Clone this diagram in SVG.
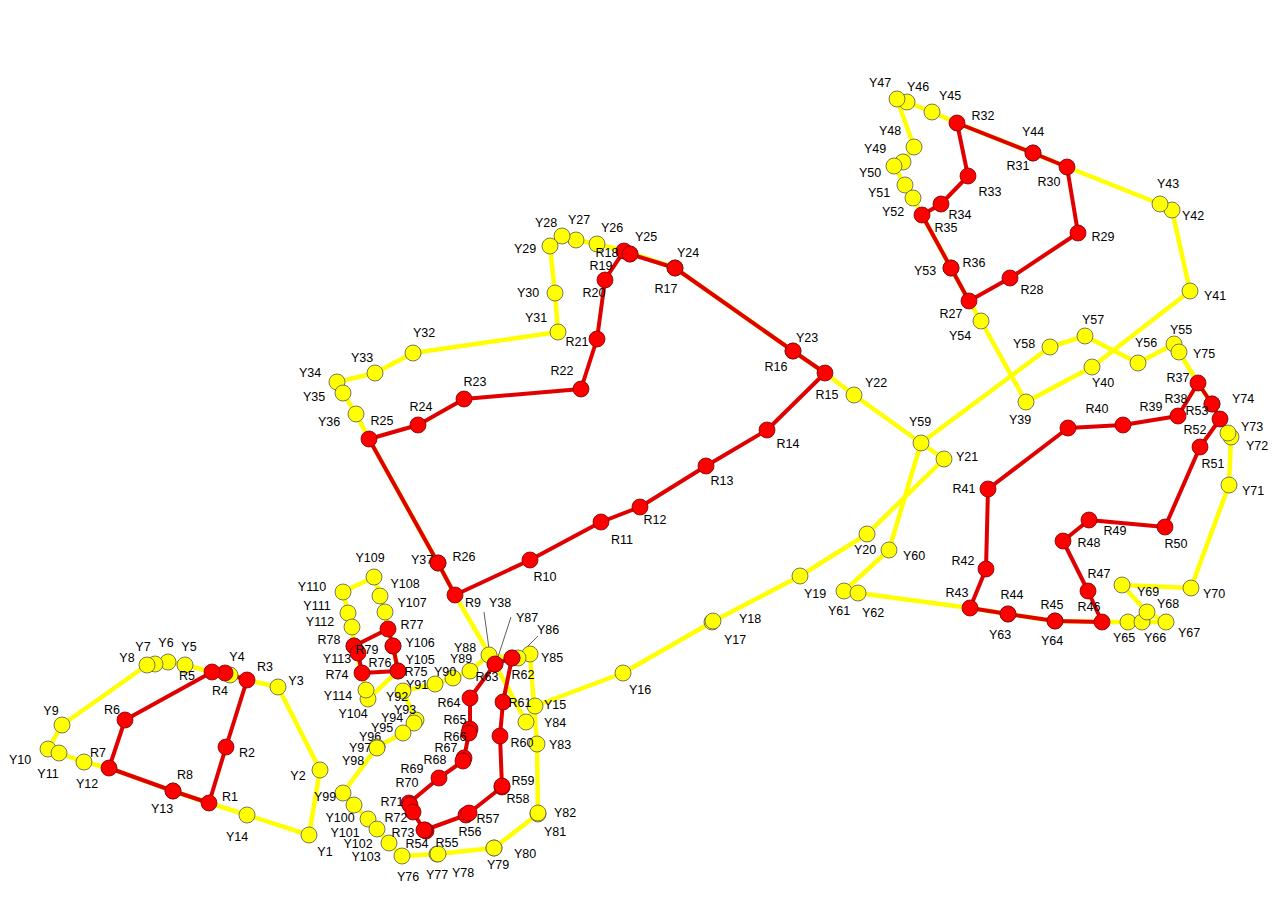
<svg xmlns="http://www.w3.org/2000/svg" width="1281" height="904" viewBox="0 0 1281 904">
<style>
.y circle{fill:#ffff00;stroke:#555;stroke-width:0.8}
.r circle{fill:#ff0000;stroke:#7a0000;stroke-width:0.8}
text{font-family:"Liberation Sans",Arial,sans-serif;font-size:12.5px;fill:#000;text-anchor:middle}
.ye{stroke:#ffff00;stroke-width:4.5;fill:none;stroke-linejoin:round}
.re{stroke:#e00000;stroke-width:4;fill:none;stroke-linejoin:round}
.ld{stroke:#333;stroke-width:0.8;fill:none}
</style>
<rect width="1281" height="904" fill="#fff"/>
<g id="connectors">
<polyline class="ye" points="309,835 320,770 278,687 247,680 225,673 212,672 185,665 168,662 155,664 147,665 62,725 48,749 59,753 84,762 109,768 173,791 209,803 247,815 309,835"/>
<polyline class="ye" points="535,706 623,673 712,622 800,576 867,534 944,459 921,443 854,395 825,373 793,351 675,268 625,251 597,244 576,240 562,236 550,246 555,293 558,332 413,353 375,373 337,382 343,393 356,414 369,439 438,563 455,595 495,664 526,722 535,706"/>
<polyline class="ye" points="1067,167 1160,204 1172,210 1190,291 1092,367 1026,402 981,321 969,301 951,268 922,215 913,198 905,185 894,166 903,162 914,147 897,99 907,102 932,112 957,123 1033,153 1067,167"/>
<polyline class="ye" points="970,608 1008,614 1055,621 1102,622 1128,622 1142,622 1166,622 1147,612 1122,585 1191,588 1229,485 1231,437 1228,433 1220,419 1212,404 1198,383 1179,352 1174,344 1138,363 1085,336 1050,347 921,443 889,550 844,591 858,593 970,608"/>
<polyline class="ye" points="402,856 437,854 494,848 538,814 537,744 530,654 518,658 512,658 489,655 470,671 453,678 435,684 403,691 416,720 414,723 403,733 377,747 343,793 354,805 368,819 377,829 389,843 402,856"/>
<polyline class="ye" points="368,699 398,671 393,646 388,629 385,612 380,596 374,577 343,592 348,613 352,627 354,646 362,673 366,690 368,699"/>
<polyline class="re" points="209,803 226,747 247,680 225,673 212,672 125,720 109,768 173,791 209,803"/>
<polyline class="re" points="455,595 530,560 601,522 640,507 706,466 767,430 825,373 793,351 675,268 630,254 624,251 608,275 605,280 597,339 581,389 464,399 418,425 369,439 438,563 455,595"/>
<polyline class="re" points="969,301 1010,278 1078,233 1067,167 1033,153 957,123 968,176 941,204 922,215 951,268 969,301"/>
<polyline class="re" points="1198,383 1178,416 1123,425 1068,428 988,489 986,569 970,608 1008,614 1055,621 1102,622 1088,591 1063,541 1089,520 1165,527 1200,447 1220,419 1212,404 1198,383"/>
<polyline class="re" points="425,830 466,815 469,813 502,787 500,736 503,702 512,658 495,664 470,698 470,729 469,733 464,758 463,761 439,778 409,803 410,805 413,812 424,830 425,830"/>
<polyline class="re" points="362,673 398,671 393,646 388,629 354,646 358,653 362,673"/>
<line class="ld" x1="484" y1="612" x2="490" y2="656"/>
<line class="ld" x1="511" y1="617" x2="498" y2="657"/>
<line class="ld" x1="538" y1="636" x2="521" y2="653"/>
</g>
<g id="yellow-nodes" class="y">
<g id="Y1"><circle cx="309" cy="835" r="8"/><text x="325" y="856">Y1</text></g>
<g id="Y2"><circle cx="320" cy="770" r="8"/><text x="298" y="780">Y2</text></g>
<g id="Y3"><circle cx="278" cy="687" r="8"/><text x="296" y="685">Y3</text></g>
<g id="Y4"><circle cx="230" cy="675" r="8"/><text x="237" y="661">Y4</text></g>
<g id="Y5"><circle cx="185" cy="665" r="8"/><text x="189" y="651">Y5</text></g>
<g id="Y6"><circle cx="168" cy="662" r="8"/><text x="166" y="647">Y6</text></g>
<g id="Y7"><circle cx="155" cy="664" r="8"/><text x="143" y="651">Y7</text></g>
<g id="Y8"><circle cx="147" cy="665" r="8"/><text x="127" y="662">Y8</text></g>
<g id="Y9"><circle cx="62" cy="725" r="8"/><text x="51" y="715">Y9</text></g>
<g id="Y10"><circle cx="48" cy="749" r="8"/><text x="20" y="764">Y10</text></g>
<g id="Y11"><circle cx="59" cy="753" r="8"/><text x="48" y="778">Y11</text></g>
<g id="Y12"><circle cx="84" cy="762" r="8"/><text x="87" y="788">Y12</text></g>
<g id="Y13"><circle cx="173" cy="791" r="8"/><text x="162" y="813">Y13</text></g>
<g id="Y14"><circle cx="247" cy="815" r="8"/><text x="237" y="841">Y14</text></g>
<g id="Y15"><circle cx="535" cy="706" r="8"/><text x="555" y="709">Y15</text></g>
<g id="Y16"><circle cx="623" cy="673" r="8"/><text x="640" y="694">Y16</text></g>
<g id="Y17"><circle cx="712" cy="622" r="8"/><text x="735" y="644">Y17</text></g>
<g id="Y18"><circle cx="713" cy="621" r="8"/><text x="750" y="623">Y18</text></g>
<g id="Y19"><circle cx="800" cy="576" r="8"/><text x="815" y="598">Y19</text></g>
<g id="Y20"><circle cx="867" cy="534" r="8"/><text x="865" y="554">Y20</text></g>
<g id="Y21"><circle cx="944" cy="459" r="8"/><text x="967" y="461">Y21</text></g>
<g id="Y22"><circle cx="854" cy="395" r="8"/><text x="876" y="387">Y22</text></g>
<g id="Y23"><circle cx="793" cy="351" r="8"/><text x="807" y="342">Y23</text></g>
<g id="Y24"><circle cx="675" cy="268" r="8"/><text x="688" y="257">Y24</text></g>
<g id="Y25"><circle cx="630" cy="254" r="8"/><text x="646" y="241">Y25</text></g>
<g id="Y26"><circle cx="597" cy="244" r="8"/><text x="612" y="232">Y26</text></g>
<g id="Y27"><circle cx="576" cy="240" r="8"/><text x="579" y="224">Y27</text></g>
<g id="Y28"><circle cx="562" cy="236" r="8"/><text x="546" y="227">Y28</text></g>
<g id="Y29"><circle cx="550" cy="246" r="8"/><text x="525" y="253">Y29</text></g>
<g id="Y30"><circle cx="555" cy="293" r="8"/><text x="528" y="297">Y30</text></g>
<g id="Y31"><circle cx="558" cy="332" r="8"/><text x="536" y="322">Y31</text></g>
<g id="Y32"><circle cx="413" cy="353" r="8"/><text x="424" y="337">Y32</text></g>
<g id="Y33"><circle cx="375" cy="373" r="8"/><text x="362" y="362">Y33</text></g>
<g id="Y34"><circle cx="337" cy="382" r="8"/><text x="310" y="377">Y34</text></g>
<g id="Y35"><circle cx="343" cy="393" r="8"/><text x="314" y="401">Y35</text></g>
<g id="Y36"><circle cx="356" cy="414" r="8"/><text x="329" y="426">Y36</text></g>
<g id="Y37"><circle cx="438" cy="563" r="8"/><text x="422" y="564">Y37</text></g>
<g id="Y38"><circle cx="495" cy="664" r="8"/><text x="500" y="607">Y38</text></g>
<g id="Y39"><circle cx="1026" cy="402" r="8"/><text x="1020" y="424">Y39</text></g>
<g id="Y40"><circle cx="1092" cy="367" r="8"/><text x="1103" y="387">Y40</text></g>
<g id="Y41"><circle cx="1190" cy="291" r="8"/><text x="1215" y="300">Y41</text></g>
<g id="Y42"><circle cx="1172" cy="210" r="8"/><text x="1193" y="220">Y42</text></g>
<g id="Y43"><circle cx="1160" cy="204" r="8"/><text x="1168" y="188">Y43</text></g>
<g id="Y44"><circle cx="1033" cy="153" r="8"/><text x="1033" y="136">Y44</text></g>
<g id="Y45"><circle cx="932" cy="112" r="8"/><text x="950" y="100">Y45</text></g>
<g id="Y46"><circle cx="907" cy="102" r="8"/><text x="918" y="91">Y46</text></g>
<g id="Y47"><circle cx="897" cy="99" r="8"/><text x="880" y="87">Y47</text></g>
<g id="Y48"><circle cx="914" cy="147" r="8"/><text x="890" y="135">Y48</text></g>
<g id="Y49"><circle cx="903" cy="162" r="8"/><text x="875" y="153">Y49</text></g>
<g id="Y50"><circle cx="894" cy="166" r="8"/><text x="870" y="177">Y50</text></g>
<g id="Y51"><circle cx="905" cy="185" r="8"/><text x="879" y="197">Y51</text></g>
<g id="Y52"><circle cx="913" cy="198" r="8"/><text x="893" y="216">Y52</text></g>
<g id="Y53"><circle cx="951" cy="268" r="8"/><text x="925" y="275">Y53</text></g>
<g id="Y54"><circle cx="981" cy="321" r="8"/><text x="960" y="340">Y54</text></g>
<g id="Y55"><circle cx="1174" cy="344" r="8"/><text x="1181" y="334">Y55</text></g>
<g id="Y56"><circle cx="1138" cy="363" r="8"/><text x="1146" y="347">Y56</text></g>
<g id="Y57"><circle cx="1085" cy="336" r="8"/><text x="1093" y="324">Y57</text></g>
<g id="Y58"><circle cx="1050" cy="347" r="8"/><text x="1024" y="348">Y58</text></g>
<g id="Y59"><circle cx="921" cy="443" r="8"/><text x="920" y="426">Y59</text></g>
<g id="Y60"><circle cx="889" cy="550" r="8"/><text x="914" y="560">Y60</text></g>
<g id="Y61"><circle cx="844" cy="591" r="8"/><text x="839" y="615">Y61</text></g>
<g id="Y62"><circle cx="858" cy="593" r="8"/><text x="873" y="617">Y62</text></g>
<g id="Y63"><circle cx="1008" cy="614" r="8"/><text x="1000" y="639">Y63</text></g>
<g id="Y64"><circle cx="1055" cy="621" r="8"/><text x="1052" y="645">Y64</text></g>
<g id="Y65"><circle cx="1128" cy="622" r="8"/><text x="1124" y="642">Y65</text></g>
<g id="Y66"><circle cx="1142" cy="622" r="8"/><text x="1155" y="642">Y66</text></g>
<g id="Y67"><circle cx="1166" cy="622" r="8"/><text x="1189" y="637">Y67</text></g>
<g id="Y68"><circle cx="1147" cy="612" r="8"/><text x="1168" y="608">Y68</text></g>
<g id="Y69"><circle cx="1122" cy="585" r="8"/><text x="1148" y="596">Y69</text></g>
<g id="Y70"><circle cx="1191" cy="588" r="8"/><text x="1214" y="598">Y70</text></g>
<g id="Y71"><circle cx="1229" cy="485" r="8"/><text x="1253" y="495">Y71</text></g>
<g id="Y72"><circle cx="1231" cy="437" r="8"/><text x="1257" y="450">Y72</text></g>
<g id="Y73"><circle cx="1228" cy="433" r="8"/><text x="1252" y="431">Y73</text></g>
<g id="Y74"><circle cx="1212" cy="404" r="8"/><text x="1243" y="403">Y74</text></g>
<g id="Y75"><circle cx="1179" cy="352" r="8"/><text x="1204" y="358">Y75</text></g>
<g id="Y76"><circle cx="402" cy="856" r="8"/><text x="408" y="881">Y76</text></g>
<g id="Y77"><circle cx="437" cy="854" r="8"/><text x="437" y="879">Y77</text></g>
<g id="Y78"><circle cx="438" cy="854" r="8"/><text x="463" y="877">Y78</text></g>
<g id="Y79"><circle cx="494" cy="848" r="8"/><text x="498" y="869">Y79</text></g>
<g id="Y80"><circle cx="494" cy="848" r="8"/><text x="525" y="858">Y80</text></g>
<g id="Y81"><circle cx="538" cy="814" r="8"/><text x="555" y="836">Y81</text></g>
<g id="Y82"><circle cx="538" cy="813" r="8"/><text x="565" y="817">Y82</text></g>
<g id="Y83"><circle cx="537" cy="744" r="8"/><text x="560" y="749">Y83</text></g>
<g id="Y84"><circle cx="526" cy="722" r="8"/><text x="555" y="727">Y84</text></g>
<g id="Y85"><circle cx="530" cy="654" r="8"/><text x="552" y="662">Y85</text></g>
<g id="Y86"><circle cx="518" cy="658" r="8"/><text x="548" y="634">Y86</text></g>
<g id="Y87"><circle cx="512" cy="658" r="8"/><text x="527" y="622">Y87</text></g>
<g id="Y88"><circle cx="489" cy="655" r="8"/><text x="465" y="652">Y88</text></g>
<g id="Y89"><circle cx="470" cy="671" r="8"/><text x="461" y="663">Y89</text></g>
<g id="Y90"><circle cx="453" cy="678" r="8"/><text x="445" y="676">Y90</text></g>
<g id="Y91"><circle cx="435" cy="684" r="8"/><text x="417" y="689">Y91</text></g>
<g id="Y92"><circle cx="403" cy="691" r="8"/><text x="397" y="701">Y92</text></g>
<g id="Y93"><circle cx="416" cy="720" r="8"/><text x="405" y="714">Y93</text></g>
<g id="Y94"><circle cx="414" cy="723" r="8"/><text x="392" y="722">Y94</text></g>
<g id="Y95"><circle cx="403" cy="733" r="8"/><text x="382" y="732">Y95</text></g>
<g id="Y96"><circle cx="377" cy="747" r="8"/><text x="370" y="741">Y96</text></g>
<g id="Y97"><circle cx="377" cy="747" r="8"/><text x="360" y="752">Y97</text></g>
<g id="Y98"><circle cx="377" cy="748" r="8"/><text x="353" y="765">Y98</text></g>
<g id="Y99"><circle cx="343" cy="793" r="8"/><text x="325" y="801">Y99</text></g>
<g id="Y100"><circle cx="354" cy="805" r="8"/><text x="340" y="822">Y100</text></g>
<g id="Y101"><circle cx="368" cy="819" r="8"/><text x="345" y="837">Y101</text></g>
<g id="Y102"><circle cx="377" cy="829" r="8"/><text x="358" y="848">Y102</text></g>
<g id="Y103"><circle cx="389" cy="843" r="8"/><text x="366" y="861">Y103</text></g>
<g id="Y104"><circle cx="368" cy="699" r="8"/><text x="353" y="718">Y104</text></g>
<g id="Y105"><circle cx="398" cy="671" r="8"/><text x="420" y="664">Y105</text></g>
<g id="Y106"><circle cx="393" cy="646" r="8"/><text x="420" y="647">Y106</text></g>
<g id="Y107"><circle cx="385" cy="612" r="8"/><text x="412" y="607">Y107</text></g>
<g id="Y108"><circle cx="380" cy="596" r="8"/><text x="405" y="588">Y108</text></g>
<g id="Y109"><circle cx="374" cy="577" r="8"/><text x="370" y="562">Y109</text></g>
<g id="Y110"><circle cx="343" cy="592" r="8"/><text x="312" y="591">Y110</text></g>
<g id="Y111"><circle cx="348" cy="613" r="8"/><text x="317" y="610">Y111</text></g>
<g id="Y112"><circle cx="352" cy="627" r="8"/><text x="320" y="626">Y112</text></g>
<g id="Y113"><circle cx="354" cy="646" r="8"/><text x="337" y="663">Y113</text></g>
<g id="Y114"><circle cx="366" cy="690" r="8"/><text x="338" y="700">Y114</text></g>
</g>
<g id="red-nodes" class="r">
<g id="R1"><circle cx="209" cy="803" r="8"/><text x="230" y="801">R1</text></g>
<g id="R2"><circle cx="226" cy="747" r="8"/><text x="247" y="757">R2</text></g>
<g id="R3"><circle cx="247" cy="680" r="8"/><text x="265" y="671">R3</text></g>
<g id="R4"><circle cx="225" cy="673" r="8"/><text x="220" y="695">R4</text></g>
<g id="R5"><circle cx="212" cy="672" r="8"/><text x="187" y="680">R5</text></g>
<g id="R6"><circle cx="125" cy="720" r="8"/><text x="112" y="714">R6</text></g>
<g id="R7"><circle cx="109" cy="768" r="8"/><text x="98" y="757">R7</text></g>
<g id="R8"><circle cx="173" cy="791" r="8"/><text x="185" y="779">R8</text></g>
<g id="R9"><circle cx="455" cy="595" r="8"/><text x="473" y="607">R9</text></g>
<g id="R10"><circle cx="530" cy="560" r="8"/><text x="545" y="581">R10</text></g>
<g id="R11"><circle cx="601" cy="522" r="8"/><text x="622" y="544">R11</text></g>
<g id="R12"><circle cx="640" cy="507" r="8"/><text x="655" y="524">R12</text></g>
<g id="R13"><circle cx="706" cy="466" r="8"/><text x="722" y="485">R13</text></g>
<g id="R14"><circle cx="767" cy="430" r="8"/><text x="788" y="448">R14</text></g>
<g id="R15"><circle cx="825" cy="373" r="8"/><text x="827" y="399">R15</text></g>
<g id="R16"><circle cx="793" cy="351" r="8"/><text x="776" y="371">R16</text></g>
<g id="R17"><circle cx="675" cy="268" r="8"/><text x="666" y="293">R17</text></g>
<g id="R18"><circle cx="624" cy="251" r="8"/><text x="607" y="257">R18</text></g>
<g id="R19"><circle cx="630" cy="254" r="8"/><text x="601" y="270">R19</text></g>
<g id="R20"><circle cx="605" cy="280" r="8"/><text x="594" y="297">R20</text></g>
<g id="R21"><circle cx="597" cy="339" r="8"/><text x="577" y="346">R21</text></g>
<g id="R22"><circle cx="581" cy="389" r="8"/><text x="562" y="375">R22</text></g>
<g id="R23"><circle cx="464" cy="399" r="8"/><text x="475" y="386">R23</text></g>
<g id="R24"><circle cx="418" cy="425" r="8"/><text x="421" y="411">R24</text></g>
<g id="R25"><circle cx="369" cy="439" r="8"/><text x="382" y="425">R25</text></g>
<g id="R26"><circle cx="438" cy="563" r="8"/><text x="464" y="561">R26</text></g>
<g id="R27"><circle cx="969" cy="301" r="8"/><text x="951" y="318">R27</text></g>
<g id="R28"><circle cx="1010" cy="278" r="8"/><text x="1032" y="294">R28</text></g>
<g id="R29"><circle cx="1078" cy="233" r="8"/><text x="1103" y="241">R29</text></g>
<g id="R30"><circle cx="1067" cy="167" r="8"/><text x="1049" y="186">R30</text></g>
<g id="R31"><circle cx="1033" cy="153" r="8"/><text x="1018" y="170">R31</text></g>
<g id="R32"><circle cx="957" cy="123" r="8"/><text x="983" y="120">R32</text></g>
<g id="R33"><circle cx="968" cy="176" r="8"/><text x="990" y="196">R33</text></g>
<g id="R34"><circle cx="941" cy="204" r="8"/><text x="960" y="219">R34</text></g>
<g id="R35"><circle cx="922" cy="215" r="8"/><text x="946" y="232">R35</text></g>
<g id="R36"><circle cx="951" cy="268" r="8"/><text x="974" y="267">R36</text></g>
<g id="R37"><circle cx="1198" cy="383" r="8"/><text x="1178" y="382">R37</text></g>
<g id="R38"><circle cx="1178" cy="416" r="8"/><text x="1176" y="403">R38</text></g>
<g id="R39"><circle cx="1123" cy="425" r="8"/><text x="1151" y="411">R39</text></g>
<g id="R40"><circle cx="1068" cy="428" r="8"/><text x="1097" y="413">R40</text></g>
<g id="R41"><circle cx="988" cy="489" r="8"/><text x="964" y="493">R41</text></g>
<g id="R42"><circle cx="986" cy="569" r="8"/><text x="963" y="565">R42</text></g>
<g id="R43"><circle cx="970" cy="608" r="8"/><text x="957" y="597">R43</text></g>
<g id="R44"><circle cx="1008" cy="614" r="8"/><text x="1012" y="599">R44</text></g>
<g id="R45"><circle cx="1055" cy="621" r="8"/><text x="1052" y="609">R45</text></g>
<g id="R46"><circle cx="1102" cy="622" r="8"/><text x="1089" y="611">R46</text></g>
<g id="R47"><circle cx="1088" cy="591" r="8"/><text x="1099" y="578">R47</text></g>
<g id="R48"><circle cx="1063" cy="541" r="8"/><text x="1089" y="547">R48</text></g>
<g id="R49"><circle cx="1089" cy="520" r="8"/><text x="1115" y="535">R49</text></g>
<g id="R50"><circle cx="1165" cy="527" r="8"/><text x="1176" y="548">R50</text></g>
<g id="R51"><circle cx="1200" cy="447" r="8"/><text x="1213" y="468">R51</text></g>
<g id="R52"><circle cx="1220" cy="419" r="8"/><text x="1195" y="434">R52</text></g>
<g id="R53"><circle cx="1212" cy="404" r="8"/><text x="1197" y="415">R53</text></g>
<g id="R55"><circle cx="426" cy="831" r="8"/><text x="447" y="847">R55</text></g>
<g id="R54"><circle cx="425" cy="830" r="8"/><text x="417" y="848">R54</text></g>
<g id="R56"><circle cx="466" cy="815" r="8"/><text x="470" y="836">R56</text></g>
<g id="R57"><circle cx="469" cy="813" r="8"/><text x="488" y="823">R57</text></g>
<g id="R58"><circle cx="502" cy="787" r="8"/><text x="518" y="803">R58</text></g>
<g id="R59"><circle cx="502" cy="786" r="8"/><text x="523" y="785">R59</text></g>
<g id="R60"><circle cx="500" cy="736" r="8"/><text x="522" y="747">R60</text></g>
<g id="R61"><circle cx="503" cy="702" r="8"/><text x="520" y="707">R61</text></g>
<g id="R62"><circle cx="512" cy="658" r="8"/><text x="523" y="679">R62</text></g>
<g id="R63"><circle cx="495" cy="664" r="8"/><text x="487" y="681">R63</text></g>
<g id="R64"><circle cx="470" cy="698" r="8"/><text x="449" y="707">R64</text></g>
<g id="R65"><circle cx="470" cy="729" r="8"/><text x="455" y="724">R65</text></g>
<g id="R66"><circle cx="469" cy="733" r="8"/><text x="455" y="741">R66</text></g>
<g id="R67"><circle cx="464" cy="758" r="8"/><text x="446" y="752">R67</text></g>
<g id="R68"><circle cx="463" cy="761" r="8"/><text x="435" y="764">R68</text></g>
<g id="R69"><circle cx="439" cy="778" r="8"/><text x="412" y="773">R69</text></g>
<g id="R70"><circle cx="409" cy="803" r="8"/><text x="407" y="787">R70</text></g>
<g id="R71"><circle cx="410" cy="805" r="8"/><text x="392" y="806">R71</text></g>
<g id="R72"><circle cx="413" cy="812" r="8"/><text x="396" y="822">R72</text></g>
<g id="R73"><circle cx="424" cy="830" r="8"/><text x="403" y="837">R73</text></g>
<g id="R74"><circle cx="362" cy="673" r="8"/><text x="337" y="679">R74</text></g>
<g id="R75"><circle cx="398" cy="671" r="8"/><text x="416" y="676">R75</text></g>
<g id="R76"><circle cx="393" cy="646" r="8"/><text x="380" y="667">R76</text></g>
<g id="R77"><circle cx="388" cy="629" r="8"/><text x="412" y="629">R77</text></g>
<g id="R78"><circle cx="354" cy="646" r="8"/><text x="329" y="644">R78</text></g>
<g id="R79"><circle cx="358" cy="653" r="8"/><text x="367" y="654">R79</text></g>
</g>
</svg>
